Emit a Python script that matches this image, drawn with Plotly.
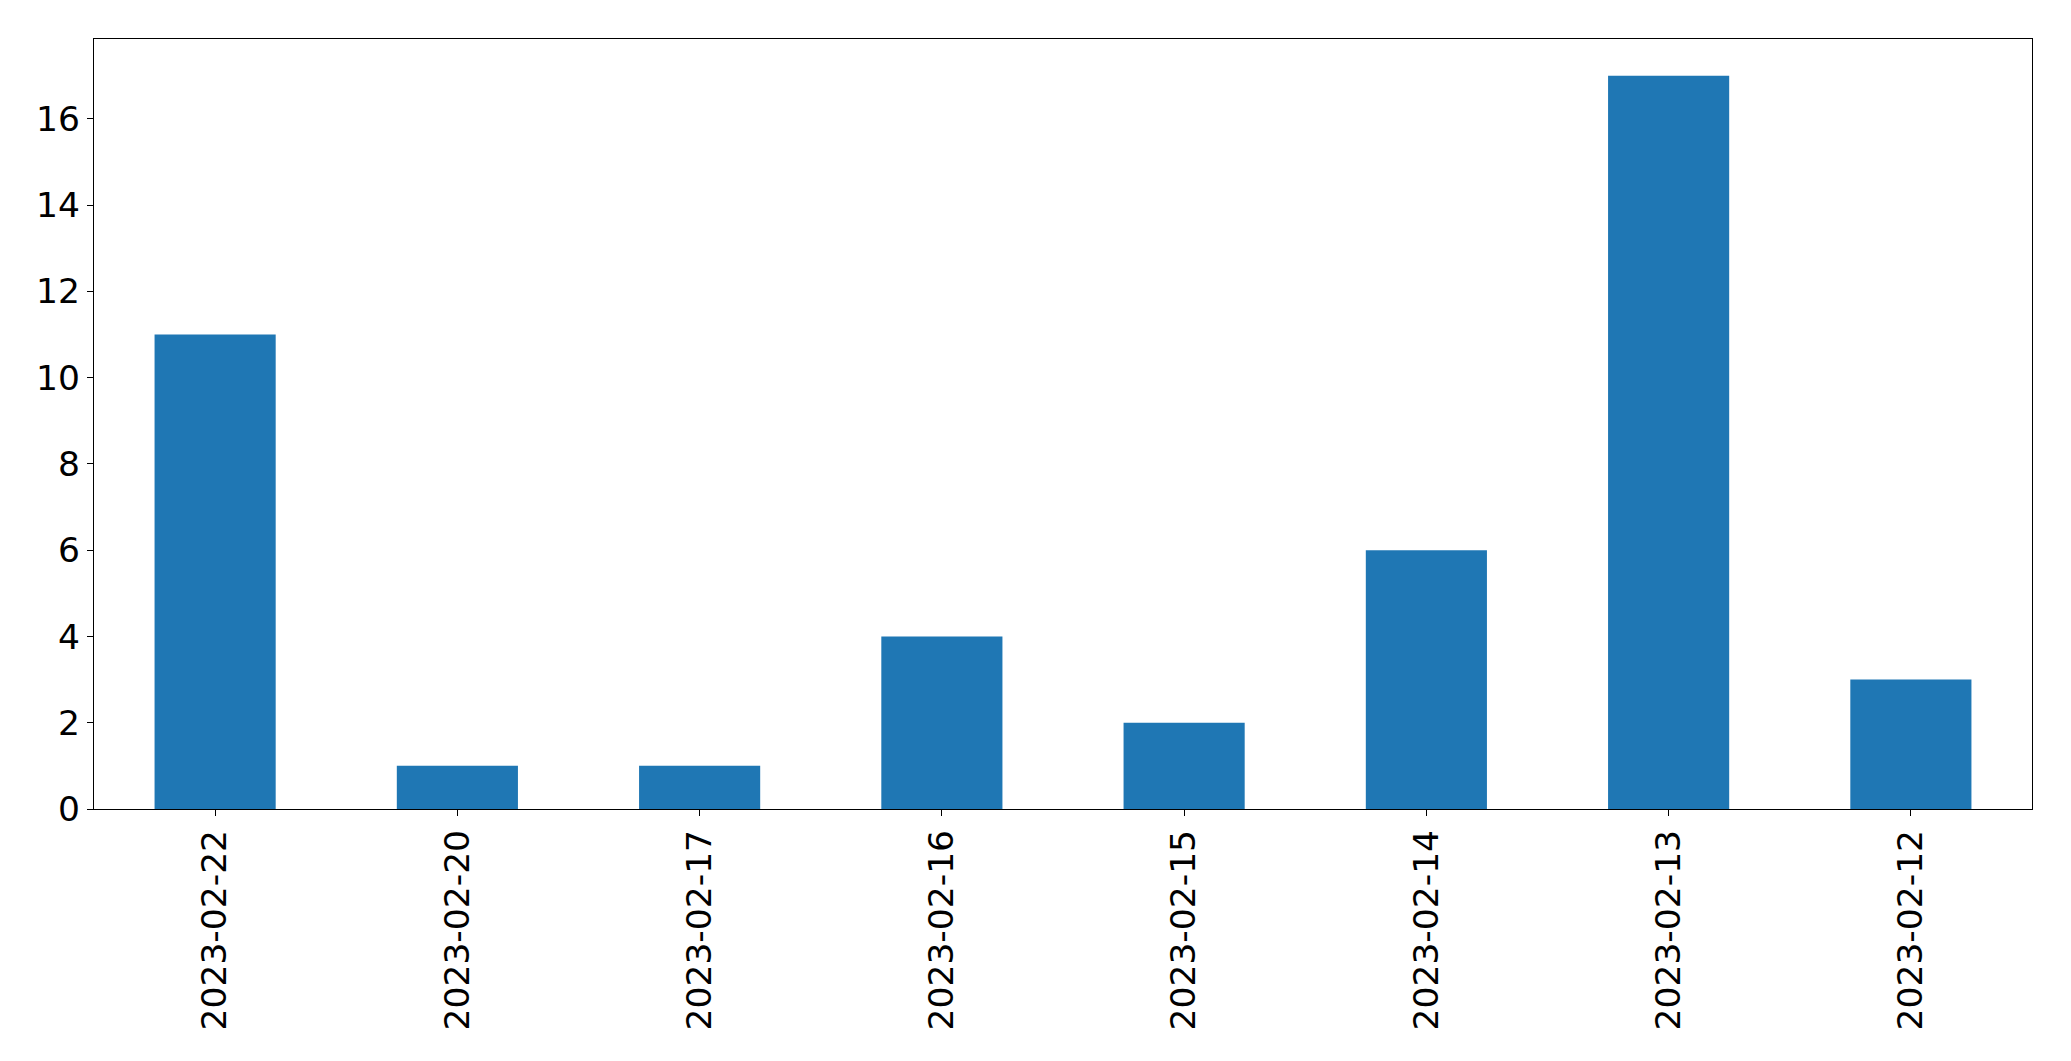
import plotly.graph_objects as go

dates = ["2023-02-22", "2023-02-20", "2023-02-17", "2023-02-16",
         "2023-02-15", "2023-02-14", "2023-02-13", "2023-02-12"]
counts = [11, 1, 1, 4, 2, 6, 17, 3]
y_ticks = [0, 2, 4, 6, 8, 10, 12, 14, 16]

fig = go.Figure(go.Bar(x=dates, y=counts, width=0.5, marker=dict(color="#1f77b4", line=dict(width=0))))

font = dict(family="DejaVu Sans", size=34.5, color="black")
# page body has an 8px margin, so the figure is offset by 8px
fig.update_layout(
    width=2055, height=1045,
    margin=dict(l=86, r=31, t=31, b=244, autoexpand=False),
    paper_bgcolor="white", plot_bgcolor="white",
    showlegend=False,
    font=font,
    template="none",
)
fig.update_xaxes(
    type="category", range=[-0.5, 7.5], automargin=False,
    tickangle=-90, ticks="outside", ticklen=6, tickwidth=1.3, tickcolor="black",
    showline=True, mirror=True, linecolor="black", linewidth=1.3,
    showgrid=False, tickfont=font,
)
fig.update_yaxes(
    range=[0, 17.85], tickvals=y_ticks, ticktext=[str(v) for v in y_ticks], automargin=False,
    ticks="outside", ticklen=6, tickwidth=1.3, tickcolor="black",
    showline=True, mirror=True, linecolor="black", linewidth=1.3,
    showgrid=False, zeroline=False, tickfont=font,
)
fig.write_html("out.html")
